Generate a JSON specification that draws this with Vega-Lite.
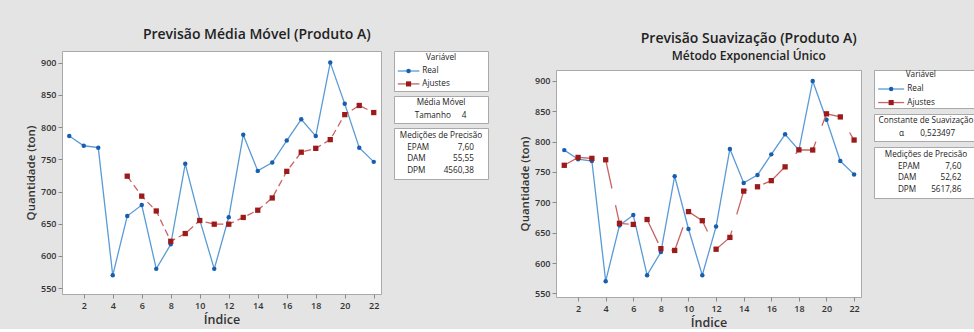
{
  "$schema": "https://vega.github.io/schema/vega-lite/v6.json",
  "background": "#e4e4e4",
  "padding": {"left": 25, "top": 27, "right": 0, "bottom": 0},
  "datasets": {
    "real": [
      {"indice": 1, "valor": 786}, {"indice": 2, "valor": 771}, {"indice": 3, "valor": 768},
      {"indice": 4, "valor": 570}, {"indice": 5, "valor": 662}, {"indice": 6, "valor": 679},
      {"indice": 7, "valor": 580}, {"indice": 8, "valor": 618}, {"indice": 9, "valor": 743},
      {"indice": 10, "valor": 656}, {"indice": 11, "valor": 580}, {"indice": 12, "valor": 660},
      {"indice": 13, "valor": 788}, {"indice": 14, "valor": 732}, {"indice": 15, "valor": 745},
      {"indice": 16, "valor": 779}, {"indice": 17, "valor": 812}, {"indice": 18, "valor": 786},
      {"indice": 19, "valor": 900}, {"indice": 20, "valor": 836}, {"indice": 21, "valor": 768},
      {"indice": 22, "valor": 746}
    ],
    "mm": [
      {"indice": 5, "valor": 723.8}, {"indice": 6, "valor": 692.8}, {"indice": 7, "valor": 669.8},
      {"indice": 8, "valor": 622.8}, {"indice": 9, "valor": 634.8}, {"indice": 10, "valor": 655},
      {"indice": 11, "valor": 649.3}, {"indice": 12, "valor": 649.3}, {"indice": 13, "valor": 659.8},
      {"indice": 14, "valor": 671}, {"indice": 15, "valor": 690}, {"indice": 16, "valor": 731.3},
      {"indice": 17, "valor": 761}, {"indice": 18, "valor": 767}, {"indice": 19, "valor": 780.5},
      {"indice": 20, "valor": 819.3}, {"indice": 21, "valor": 833.5}, {"indice": 22, "valor": 822.5}
    ],
    "se": [
      {"indice": 1, "valor": 761}, {"indice": 2, "valor": 774}, {"indice": 3, "valor": 772.4},
      {"indice": 4, "valor": 770.1}, {"indice": 5, "valor": 665.4}, {"indice": 6, "valor": 663.6},
      {"indice": 7, "valor": 671.7}, {"indice": 8, "valor": 623.7}, {"indice": 9, "valor": 620.7},
      {"indice": 10, "valor": 684.7}, {"indice": 11, "valor": 669.7}, {"indice": 12, "valor": 622.7},
      {"indice": 13, "valor": 642.2}, {"indice": 14, "valor": 718.5}, {"indice": 15, "valor": 725.6},
      {"indice": 16, "valor": 735.7}, {"indice": 17, "valor": 758.4}, {"indice": 18, "valor": 786.5},
      {"indice": 19, "valor": 786.2}, {"indice": 20, "valor": 845.8}, {"indice": 21, "valor": 840.7},
      {"indice": 22, "valor": 802.6}
    ]
  },
  "config": {
    "font": "Open Sans",
    "view": {"stroke": "#a9a9a9", "fill": "white", "strokeWidth": 1},
    "axis": {
      "domain": false, "grid": false,
      "labelFont": "Open Sans", "labelFontSize": 9, "labelFontWeight": 600, "labelColor": "#333333",
      "tickColor": "#8a8a8a", "tickSize": 4, "labelPadding": 2,
      "titleFont": "Open Sans", "titleFontWeight": 600, "titleColor": "#333333", "titleFontSize": 11.5
    },
    "title": {
      "font": "Open Sans", "fontSize": 14, "fontWeight": 600, "color": "#222222", "anchor": "middle",
      "subtitleFont": "Open Sans", "subtitleFontSize": 12, "subtitleFontWeight": 600, "subtitleColor": "#222222", "subtitlePadding": 5
    },
    "text": {"font": "Open Sans", "fontSize": 8.2, "color": "#222222"}
  },
  "spacing": 30,
  "hconcat": [
    {
      "title": {"text": "Previsão Média Móvel (Produto A)", "offset": 9},
      "spacing": 11,
      "hconcat": [
        {
          "width": 319, "height": 243,
          "encoding": {
            "x": {"field": "indice", "type": "quantitative",
              "scale": {"domain": [0.5, 22.5], "nice": false, "zero": false},
              "axis": {"values": [2, 4, 6, 8, 10, 12, 14, 16, 18, 20, 22], "title": "Índice", "titleFontSize": 12.5, "titlePadding": 3, "labelPadding": 3}},
            "y": {"field": "valor", "type": "quantitative",
              "scale": {"domain": [541, 918], "nice": false, "zero": false},
              "axis": {"values": [550, 600, 650, 700, 750, 800, 850, 900], "title": "Quantidade (ton)", "titlePadding": 4}}
          },
          "layer": [
            {"data": {"name": "real"}, "mark": {"type": "line", "color": "#5a9ad6", "strokeWidth": 1.3}, "encoding": {}},
            {"data": {"name": "real"}, "mark": {"type": "point", "shape": "circle", "filled": true, "opacity": 1, "size": 20, "color": "#175fae"}, "encoding": {}},
            {"data": {"name": "mm"}, "mark": {"type": "line", "color": "#c86464", "strokeWidth": 1.3, "strokeDash": [7, 4]}, "encoding": {}},
            {"data": {"name": "mm"}, "mark": {"type": "point", "shape": "square", "filled": true, "opacity": 1, "size": 28, "color": "#9c1a1a"}, "encoding": {}}
          ]
        },
        {
          "spacing": 3,
          "vconcat": [
            {
              "width": 94, "height": 40,
              "data": {"values": [{"item": "Variável"}, {"item": "Real"}, {"item": "Ajustes"}]},
              "encoding": {"y": {"field": "item", "type": "nominal", "sort": null, "axis": null, "scale": {"type": "point", "padding": 0.55}}},
              "layer": [
                {"transform": [{"filter": "datum.item == 'Variável'"}], "mark": {"type": "text", "align": "center", "baseline": "middle"},
                  "encoding": {"x": {"datum": 0.5, "scale": {"domain": [0, 1]}, "axis": null}, "text": {"field": "item"}}},
                {"transform": [{"filter": "datum.item == 'Real'"}], "mark": {"type": "rule", "color": "#5a9ad6", "strokeWidth": 1.3},
                  "encoding": {"x": {"datum": 0.04, "scale": {"domain": [0, 1]}, "axis": null}, "x2": {"datum": 0.27}}},
                {"transform": [{"filter": "datum.item == 'Real'"}], "mark": {"type": "point", "shape": "circle", "filled": true, "opacity": 1, "size": 20, "color": "#175fae"},
                  "encoding": {"x": {"datum": 0.155, "scale": {"domain": [0, 1]}, "axis": null}}},
                {"transform": [{"filter": "datum.item == 'Ajustes'"}], "mark": {"type": "rule", "color": "#c86464", "strokeWidth": 1.3},
                  "encoding": {"x": {"datum": 0.04, "scale": {"domain": [0, 1]}, "axis": null}, "x2": {"datum": 0.27}}},
                {"transform": [{"filter": "datum.item == 'Ajustes'"}], "mark": {"type": "point", "shape": "square", "filled": true, "opacity": 1, "size": 26, "color": "#9c1a1a"},
                  "encoding": {"x": {"datum": 0.155, "scale": {"domain": [0, 1]}, "axis": null}}},
                {"transform": [{"filter": "datum.item != 'Variável'"}], "mark": {"type": "text", "align": "left", "baseline": "middle"},
                  "encoding": {"x": {"datum": 0.3, "scale": {"domain": [0, 1]}, "axis": null}, "text": {"field": "item"}}}
              ]
            },
            {
              "width": 94, "height": 27,
              "data": {"values": [{"rotulo": "Média Móvel", "valor": "", "cab": true}, {"rotulo": "Tamanho", "valor": "4", "cab": false}]},
              "encoding": {"y": {"field": "rotulo", "type": "nominal", "sort": null, "axis": null, "scale": {"type": "point", "padding": 0.5}}},
              "layer": [
                {"transform": [{"filter": "datum.cab"}], "mark": {"type": "text", "align": "center", "baseline": "middle"},
                  "encoding": {"x": {"datum": 0.5, "scale": {"domain": [0, 1]}, "axis": null}, "text": {"field": "rotulo"}}},
                {"transform": [{"filter": "!datum.cab"}], "mark": {"type": "text", "align": "left", "baseline": "middle"},
                  "encoding": {"x": {"datum": 0.22, "scale": {"domain": [0, 1]}, "axis": null}, "text": {"field": "rotulo"}}},
                {"transform": [{"filter": "!datum.cab"}], "mark": {"type": "text", "align": "right", "baseline": "middle"},
                  "encoding": {"x": {"datum": 0.77, "scale": {"domain": [0, 1]}, "axis": null}, "text": {"field": "valor"}}}
              ]
            },
            {
              "width": 94, "height": 51,
              "data": {"values": [
                {"rotulo": "Medições de Precisão", "valor": "", "cab": true},
                {"rotulo": "EPAM", "valor": "7,60", "cab": false},
                {"rotulo": "DAM", "valor": "55,55", "cab": false},
                {"rotulo": "DPM", "valor": "4560,38", "cab": false}
              ]},
              "encoding": {"y": {"field": "rotulo", "type": "nominal", "sort": null, "axis": null, "scale": {"type": "point", "padding": 0.7}}},
              "layer": [
                {"transform": [{"filter": "datum.cab"}], "mark": {"type": "text", "align": "center", "baseline": "middle"},
                  "encoding": {"x": {"datum": 0.5, "scale": {"domain": [0, 1]}, "axis": null}, "text": {"field": "rotulo"}}},
                {"transform": [{"filter": "!datum.cab"}], "mark": {"type": "text", "align": "left", "baseline": "middle"},
                  "encoding": {"x": {"datum": 0.14, "scale": {"domain": [0, 1]}, "axis": null}, "text": {"field": "rotulo"}}},
                {"transform": [{"filter": "!datum.cab"}], "mark": {"type": "text", "align": "right", "baseline": "middle"},
                  "encoding": {"x": {"datum": 0.85, "scale": {"domain": [0, 1]}, "axis": null}, "text": {"field": "valor"}}}
              ]
            }
          ]
        }
      ]
    },
    {
      "title": {"text": "Previsão Suavização (Produto A)", "subtitle": "Método Exponencial Único", "offset": -11},
      "spacing": 0,
      "vconcat": [
        {
          "width": 10, "height": 17,
          "view": {"stroke": "transparent", "fill": "transparent"},
          "data": {"values": [{"vazio": ""}]},
          "mark": {"type": "text"},
          "encoding": {"text": {"field": "vazio"}}
        },
        {
          "spacing": 11,
          "hconcat": [
            {
              "width": 305, "height": 227,
              "encoding": {
                "x": {"field": "indice", "type": "quantitative",
                  "scale": {"domain": [0.4, 22.5], "nice": false, "zero": false},
                  "axis": {"values": [2, 4, 6, 8, 10, 12, 14, 16, 18, 20, 22], "title": "Índice", "titleFontSize": 12.5, "titlePadding": 3, "labelPadding": 3}},
                "y": {"field": "valor", "type": "quantitative",
                  "scale": {"domain": [544, 918], "nice": false, "zero": false},
                  "axis": {"values": [550, 600, 650, 700, 750, 800, 850, 900], "title": "Quantidade (ton)", "titlePadding": 4}}
              },
              "layer": [
                {"data": {"name": "real"}, "mark": {"type": "line", "color": "#5a9ad6", "strokeWidth": 1.3}, "encoding": {}},
                {"data": {"name": "real"}, "mark": {"type": "point", "shape": "circle", "filled": true, "opacity": 1, "size": 20, "color": "#175fae"}, "encoding": {}},
                {"data": {"name": "se"}, "mark": {"type": "line", "color": "#c86464", "strokeWidth": 1.3, "strokeDash": [28, 17]}, "encoding": {}},
                {"data": {"name": "se"}, "mark": {"type": "point", "shape": "square", "filled": true, "opacity": 1, "size": 28, "color": "#9c1a1a"}, "encoding": {}}
              ]
            },
            {
              "spacing": 4,
              "vconcat": [
                {
                  "width": 104, "height": 38,
                  "data": {"values": [{"item": "Variável"}, {"item": "Real"}, {"item": "Ajustes"}]},
                  "encoding": {"y": {"field": "item", "type": "nominal", "sort": null, "axis": null, "scale": {"type": "point", "padding": 0.4}}},
                  "layer": [
                    {"transform": [{"filter": "datum.item == 'Variável'"}], "mark": {"type": "text", "align": "center", "baseline": "middle"},
                      "encoding": {"x": {"datum": 0.45, "scale": {"domain": [0, 1]}, "axis": null}, "text": {"field": "item"}}},
                    {"transform": [{"filter": "datum.item == 'Real'"}], "mark": {"type": "rule", "color": "#5a9ad6", "strokeWidth": 1.3},
                      "encoding": {"x": {"datum": 0.04, "scale": {"domain": [0, 1]}, "axis": null}, "x2": {"datum": 0.29}}},
                    {"transform": [{"filter": "datum.item == 'Real'"}], "mark": {"type": "point", "shape": "circle", "filled": true, "opacity": 1, "size": 20, "color": "#175fae"},
                      "encoding": {"x": {"datum": 0.165, "scale": {"domain": [0, 1]}, "axis": null}}},
                    {"transform": [{"filter": "datum.item == 'Ajustes'"}], "mark": {"type": "rule", "color": "#c86464", "strokeWidth": 1.3},
                      "encoding": {"x": {"datum": 0.04, "scale": {"domain": [0, 1]}, "axis": null}, "x2": {"datum": 0.29}}},
                    {"transform": [{"filter": "datum.item == 'Ajustes'"}], "mark": {"type": "point", "shape": "square", "filled": true, "opacity": 1, "size": 26, "color": "#9c1a1a"},
                      "encoding": {"x": {"datum": 0.165, "scale": {"domain": [0, 1]}, "axis": null}}},
                    {"transform": [{"filter": "datum.item != 'Variável'"}], "mark": {"type": "text", "align": "left", "baseline": "middle"},
                      "encoding": {"x": {"datum": 0.32, "scale": {"domain": [0, 1]}, "axis": null}, "text": {"field": "item"}}}
                  ]
                },
                {
                  "width": 104, "height": 27,
                  "data": {"values": [{"rotulo": "Constante de Suavização", "valor": "", "cab": true}, {"rotulo": "α", "valor": "0,523497", "cab": false}]},
                  "encoding": {"y": {"field": "rotulo", "type": "nominal", "sort": null, "axis": null, "scale": {"type": "point", "padding": 0.5}}},
                  "layer": [
                    {"transform": [{"filter": "datum.cab"}], "mark": {"type": "text", "align": "center", "baseline": "middle"},
                      "encoding": {"x": {"datum": 0.5, "scale": {"domain": [0, 1]}, "axis": null}, "text": {"field": "rotulo"}}},
                    {"transform": [{"filter": "!datum.cab"}], "mark": {"type": "text", "align": "left", "baseline": "middle"},
                      "encoding": {"x": {"datum": 0.24, "scale": {"domain": [0, 1]}, "axis": null}, "text": {"field": "rotulo"}}},
                    {"transform": [{"filter": "!datum.cab"}], "mark": {"type": "text", "align": "right", "baseline": "middle"},
                      "encoding": {"x": {"datum": 0.78, "scale": {"domain": [0, 1]}, "axis": null}, "text": {"field": "valor"}}}
                  ]
                },
                {
                  "width": 104, "height": 51,
                  "data": {"values": [
                    {"rotulo": "Medições de Precisão", "valor": "", "cab": true},
                    {"rotulo": "EPAM", "valor": "7,60", "cab": false},
                    {"rotulo": "DAM", "valor": "52,62", "cab": false},
                    {"rotulo": "DPM", "valor": "5617,86", "cab": false}
                  ]},
                  "encoding": {"y": {"field": "rotulo", "type": "nominal", "sort": null, "axis": null, "scale": {"type": "point", "padding": 0.7}}},
                  "layer": [
                    {"transform": [{"filter": "datum.cab"}], "mark": {"type": "text", "align": "center", "baseline": "middle"},
                      "encoding": {"x": {"datum": 0.5, "scale": {"domain": [0, 1]}, "axis": null}, "text": {"field": "rotulo"}}},
                    {"transform": [{"filter": "!datum.cab"}], "mark": {"type": "text", "align": "left", "baseline": "middle"},
                      "encoding": {"x": {"datum": 0.23, "scale": {"domain": [0, 1]}, "axis": null}, "text": {"field": "rotulo"}}},
                    {"transform": [{"filter": "!datum.cab"}], "mark": {"type": "text", "align": "right", "baseline": "middle"},
                      "encoding": {"x": {"datum": 0.84, "scale": {"domain": [0, 1]}, "axis": null}, "text": {"field": "valor"}}}
                  ]
                }
              ]
            }
          ]
        }
      ]
    }
  ]
}
